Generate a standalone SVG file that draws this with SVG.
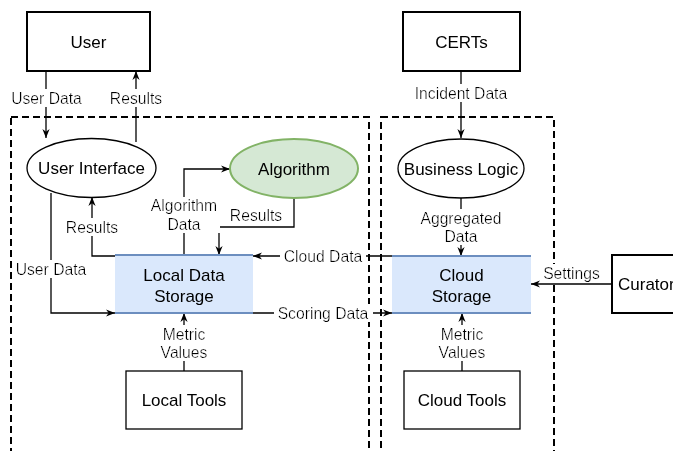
<svg xmlns="http://www.w3.org/2000/svg" width="673" height="451" viewBox="0 0 673 451">
<style>
  .node { font-family: "Liberation Sans", Arial, sans-serif; font-size: 17px; font-weight: 400; fill: #000; text-anchor: middle; }
  .lbl { font-family: "Liberation Sans", Arial, sans-serif; font-size: 15.7px; font-weight: 400; fill: #000; text-anchor: middle; }
  .box { fill: #fff; stroke: #000; }
  .ell { fill: #fff; stroke: #000; stroke-width: 1.3; }
  .edge { fill: none; stroke: #000; stroke-width: 1.3; }
  .arr { marker-end: url(#ah); }
  .cont { fill: none; stroke: #000; stroke-width: 2; stroke-dasharray: 7 4; }
  .store { fill: #dae8fc; }
  .storeline { stroke: #6c8ebf; stroke-width: 2; }
</style>
<defs>
  <marker id="ah" viewBox="0 0 10 10" refX="10" refY="5" markerWidth="9" markerHeight="9" markerUnits="userSpaceOnUse" orient="auto">
    <path d="M0,1 L10,5 L0,9 L3,5 Z" fill="#000"/>
  </marker>
  <filter id="bg" x="-0.04" y="0" width="1.08" height="1">
    <feFlood flood-color="#fff"/>
    <feComposite in="SourceGraphic"/>
  </filter>
  <filter id="aa" x="0" y="0" width="1" height="1">
    <feMerge><feMergeNode in="SourceGraphic"/></feMerge>
  </filter>
</defs>
<rect width="673" height="451" fill="#fff"/>

<g id="containers">
  <rect class="cont" x="11" y="117" width="358" height="350"/>
  <rect class="cont" x="381" y="117" width="173" height="350"/>
</g>

<g id="connectors">
  <path class="edge arr" d="M46,71 V138"/>
  <path class="edge arr" d="M136,142 V71"/>
  <path class="edge arr" d="M461,71 V138"/>
  <path class="edge arr" d="M184,255 V169 H230"/>
  <path class="edge arr" d="M294,198 V227 H219 V255"/>
  <path class="edge arr" d="M115,256 H92 V197"/>
  <path class="edge arr" d="M51,193 V313 H115"/>
  <path class="edge arr" d="M392,256 H253"/>
  <path class="edge arr" d="M253,313 H392"/>
  <path class="edge arr" d="M461,198 V256"/>
  <path class="edge arr" d="M612,284 H531"/>
  <path class="edge arr" d="M184,371 V313"/>
  <path class="edge arr" d="M462,371 V313"/>
</g>

<g id="labels">
  <text class="lbl" x="46.5" y="103.5" filter="url(#bg)">User Data</text>
  <text class="lbl" x="136" y="103.5" filter="url(#bg)">Results</text>
  <text class="lbl" x="461" y="98.5" filter="url(#bg)">Incident Data</text>
  <text class="lbl" y="211" filter="url(#bg)"><tspan x="184">Algorithm</tspan><tspan x="184" dy="18.5">Data</tspan></text>
  <text class="lbl" x="256" y="220.5" filter="url(#bg)">Results</text>
  <text class="lbl" x="92" y="232.5" filter="url(#bg)">Results</text>
  <text class="lbl" x="51" y="274.5" filter="url(#bg)">User Data</text>
  <text class="lbl" x="323" y="261.5" filter="url(#bg)">Cloud Data</text>
  <text class="lbl" x="323" y="318.5" filter="url(#bg)">Scoring Data</text>
  <text class="lbl" y="223.5" filter="url(#bg)"><tspan x="461">Aggregated</tspan><tspan x="461" dy="18.5">Data</tspan></text>
  <text class="lbl" x="571.5" y="278.5" filter="url(#bg)">Settings</text>
  <text class="lbl" y="339.5" filter="url(#bg)"><tspan x="184">Metric</tspan><tspan x="184" dy="18.5">Values</tspan></text>
  <text class="lbl" y="339.5" filter="url(#bg)"><tspan x="462">Metric</tspan><tspan x="462" dy="18.5">Values</tspan></text>
</g>

<g id="user">
  <rect class="box" x="27" y="12" width="123" height="59" stroke-width="2"/>
  <text class="node" x="88.5" y="47.5" filter="url(#aa)">User</text>
</g>
<g id="certs">
  <rect class="box" x="403" y="12" width="117" height="59" stroke-width="2"/>
  <text class="node" x="461.5" y="47.5" filter="url(#aa)">CERTs</text>
</g>
<g id="curator">
  <rect class="box" x="612" y="255" width="80" height="58" stroke-width="2"/>
  <text class="node" x="618" y="290" style="text-anchor:start" filter="url(#aa)">Curator</text>
</g>
<g id="user-interface">
  <ellipse class="ell" cx="91.5" cy="168" rx="64.5" ry="29.5"/>
  <text class="node" x="91.5" y="174" filter="url(#aa)">User Interface</text>
</g>
<g id="algorithm">
  <ellipse cx="294" cy="168.5" rx="64" ry="29.5" fill="#d5e8d4" stroke="#82b366" stroke-width="2"/>
  <text class="node" x="294" y="174.5" filter="url(#aa)">Algorithm</text>
</g>
<g id="business-logic">
  <ellipse class="ell" cx="461" cy="168.5" rx="63" ry="29.5"/>
  <text class="node" x="461" y="174.5" filter="url(#aa)">Business Logic</text>
</g>
<g id="local-data-storage">
  <rect class="store" x="115" y="255" width="138" height="58"/>
  <line class="storeline" x1="115" y1="255" x2="253" y2="255"/>
  <line class="storeline" x1="115" y1="313" x2="253" y2="313"/>
  <text class="node" y="281" filter="url(#aa)"><tspan x="184">Local Data</tspan><tspan x="184" dy="21">Storage</tspan></text>
</g>
<g id="cloud-storage">
  <rect class="store" x="392" y="256" width="139" height="57"/>
  <line class="storeline" x1="392" y1="256" x2="531" y2="256"/>
  <line class="storeline" x1="392" y1="313" x2="531" y2="313"/>
  <text class="node" y="281" filter="url(#aa)"><tspan x="461.5">Cloud</tspan><tspan x="461.5" dy="21">Storage</tspan></text>
</g>
<g id="local-tools">
  <rect class="box" x="126" y="371" width="116" height="58" stroke-width="1.3"/>
  <text class="node" x="184" y="406" filter="url(#aa)">Local Tools</text>
</g>
<g id="cloud-tools">
  <rect class="box" x="404" y="371" width="116" height="58" stroke-width="1.3"/>
  <text class="node" x="462" y="406" filter="url(#aa)">Cloud Tools</text>
</g>
</svg>
